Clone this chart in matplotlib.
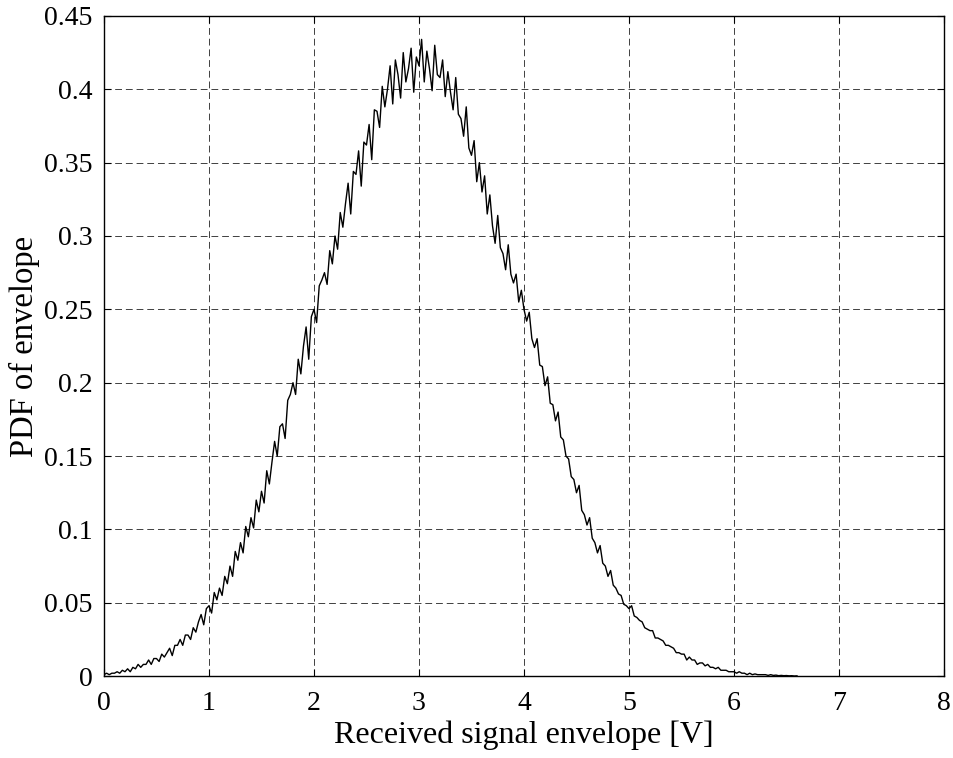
import numpy as np
import matplotlib
matplotlib.use("Agg")
import matplotlib.pyplot as plt

# estimated PDF of envelope, 0.025 V bins from 0 to 6.6 V
pdf = [
    0.001, 0.002, 0.001, 0.002, 0.002, 0.003, 0.002, 0.004,
    0.003, 0.005, 0.003, 0.006, 0.005, 0.008, 0.006, 0.008,
    0.008, 0.011, 0.008, 0.012, 0.012, 0.010, 0.015, 0.013,
    0.016, 0.019, 0.014, 0.021, 0.021, 0.025, 0.021, 0.028,
    0.028, 0.025, 0.033, 0.030, 0.037, 0.042, 0.035, 0.046,
    0.048, 0.043, 0.057, 0.052, 0.060, 0.055, 0.068, 0.063,
    0.075, 0.068, 0.085, 0.079, 0.091, 0.084, 0.102, 0.095,
    0.108, 0.101, 0.120, 0.112, 0.126, 0.118, 0.140, 0.131,
    0.146, 0.160, 0.150, 0.170, 0.172, 0.162, 0.188, 0.192,
    0.200, 0.192, 0.216, 0.206, 0.225, 0.238, 0.216, 0.245,
    0.250, 0.241, 0.266, 0.270, 0.275, 0.267, 0.290, 0.281,
    0.300, 0.291, 0.316, 0.306, 0.322, 0.336, 0.315, 0.344,
    0.342, 0.358, 0.334, 0.364, 0.362, 0.376, 0.352, 0.386,
    0.385, 0.374, 0.402, 0.388, 0.400, 0.416, 0.390, 0.420,
    0.410, 0.394, 0.425, 0.405, 0.414, 0.428, 0.398, 0.422,
    0.416, 0.434, 0.405, 0.426, 0.414, 0.399, 0.430, 0.410,
    0.408, 0.420, 0.395, 0.412, 0.398, 0.386, 0.408, 0.383,
    0.380, 0.368, 0.388, 0.360, 0.355, 0.365, 0.337, 0.350,
    0.330, 0.341, 0.315, 0.328, 0.307, 0.295, 0.314, 0.292,
    0.288, 0.277, 0.294, 0.274, 0.268, 0.274, 0.255, 0.263,
    0.250, 0.242, 0.248, 0.230, 0.224, 0.230, 0.212, 0.211,
    0.198, 0.204, 0.186, 0.185, 0.174, 0.180, 0.163, 0.161,
    0.150, 0.148, 0.136, 0.134, 0.125, 0.130, 0.113, 0.110,
    0.103, 0.108, 0.094, 0.091, 0.084, 0.089, 0.077, 0.075,
    0.068, 0.072, 0.062, 0.060, 0.056, 0.055, 0.049, 0.048,
    0.046, 0.048, 0.041, 0.040, 0.038, 0.037, 0.033, 0.032,
    0.031, 0.031, 0.026, 0.026, 0.025, 0.024, 0.021, 0.021,
    0.020, 0.019, 0.016, 0.016, 0.015, 0.015, 0.011, 0.013,
    0.011, 0.011, 0.008, 0.009, 0.009, 0.007, 0.008, 0.006,
    0.006, 0.005, 0.006, 0.004, 0.004, 0.004, 0.003, 0.003,
    0.003, 0.002, 0.003, 0.002, 0.002, 0.001, 0.002, 0.001,
    0.0015, 0.001, 0.001, 0.001, 0.001, 0.0005, 0.001, 0.0005,
    0.0007, 0.0003, 0.0005, 0.0003, 0.0004, 0.0002, 0.0003, 0.0001,
    0.0002,
]
env = np.linspace(0, 6.6, len(pdf))

plt.rcParams['font.family'] = ['Liberation Serif']

fig = plt.figure(figsize=(9.54, 7.58), dpi=100)
ax = fig.add_axes([0.109, 0.108, 0.8805, 0.871])

ax.plot(env, pdf, color='black', linewidth=1.0)

ax.set_xlim(0, 8)
ax.set_ylim(0, 0.45)
ax.set_xticks(np.arange(0, 9, 1))
ax.set_yticks(np.arange(0, 0.451, 0.05))
ax.set_yticklabels(['0', '0.05', '0.1', '0.15', '0.2', '0.25', '0.3', '0.35', '0.4', '0.45'])
ax.grid(True, color='black', linestyle=(0, (7, 4)), linewidth=0.7, alpha=0.75)
ax.tick_params(direction='in', length=5, labelsize=20, top=True, right=True)
ax.tick_params(axis='x', pad=11)
ax.tick_params(axis='y', pad=8)
for s in ax.spines.values():
    s.set_linewidth(1.0)

ax.set_xlabel('Received signal envelope [V]', fontsize=23, labelpad=3)
ax.set_ylabel('PDF of envelope', fontsize=23.5, labelpad=3)

plt.savefig("out.png", dpi=100)
